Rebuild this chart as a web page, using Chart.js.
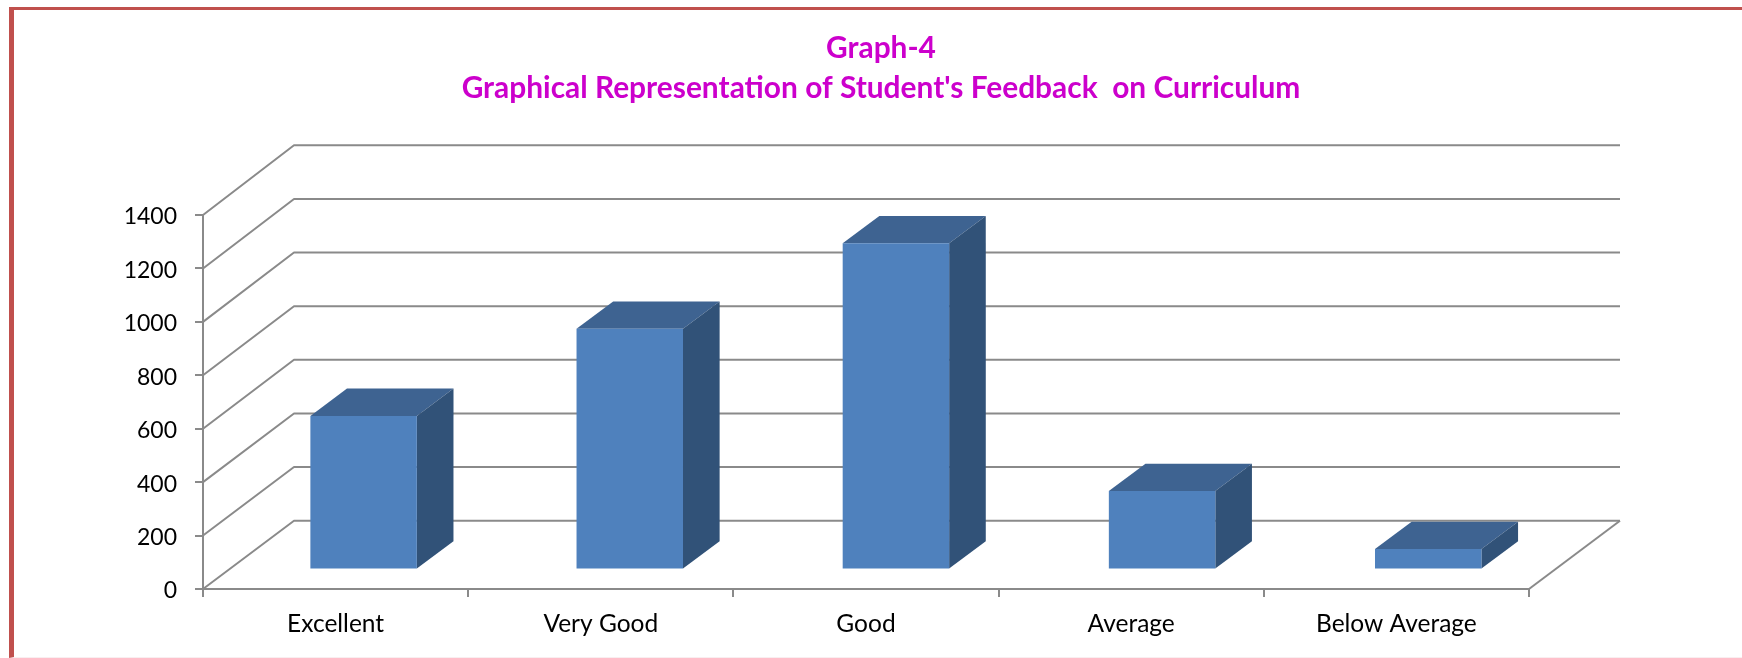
<!DOCTYPE html>
<html>
<head>
<meta charset="utf-8">
<title>Graph-4</title>
<script src="https://cdn.jsdelivr.net/npm/chart.js@4"></script>
<style>
    html, body { margin: 0; padding: 0; background: #fff; }
    .frame {
        position: absolute; left: 9px; top: 7px; right: 0; bottom: 0;
        border-top: 3px solid #c0504d; border-left: 5px solid #c0504d;
        border-bottom: 1px solid #f9eef0;
    }
    canvas { position: absolute; left: 0; top: 0; }
</style>
</head>
<body>
<div class="frame"></div>
<canvas id="myChart" width="1742" height="658"></canvas>
<script>
const titleLines = ['Graph-4', "Graphical Representation of Student's Feedback  on Curriculum"];
const categories = ['Excellent', 'Very Good', 'Good', 'Average', 'Below Average'];
const feedback = [575, 901, 1221, 294, 77];
const yMax = 1400;
const yStep = 200;

// depth of the box (back wall) and of each bar, in pixels
// the back wall is a little taller than the front plane, like in the original perspective
const wallDepth = { x: 91, yBottom: 68.3, yTop: 69.7 };
const barDepth = { x: 36.5, y: 27.3 };
const barShift = { x: 26.8, y: 19.5 };
const barSpread = 1.0036;
const lineColor = '#8a8a8a';

const fake3d = {
    id: 'fake3d',
    beforeDatasetsDraw(chart) {
        const { ctx, chartArea, scales } = chart;
        const rise = value => wallDepth.yBottom + (wallDepth.yTop - wallDepth.yBottom) * value / yMax;
        ctx.save();
        ctx.strokeStyle = lineColor;
        ctx.lineWidth = 2;
        ctx.lineJoin = 'round';

        // side wall, back wall
        scales.y.ticks.forEach(t => {
            const py = scales.y.getPixelForValue(t.value);
            ctx.beginPath();
            ctx.moveTo(chartArea.left, py);
            ctx.lineTo(chartArea.left + wallDepth.x, py - rise(t.value));
            ctx.lineTo(chartArea.right + wallDepth.x, py - rise(t.value));
            ctx.stroke();
        });
        // right edge of the floor
        ctx.beginPath();
        ctx.moveTo(chartArea.right, chartArea.bottom);
        ctx.lineTo(chartArea.right + wallDepth.x, chartArea.bottom - rise(0));
        ctx.stroke();
        ctx.restore();

        // bars stand a bit behind the front plane, the library draws the front face
        ctx.save();
        ctx.translate(barShift.x, -barShift.y);
        ctx.scale(barSpread, 1);
        chart.getDatasetMeta(0).data.forEach(bar => {
            const left = bar.x - bar.width / 2;
            const right = bar.x + bar.width / 2;

            ctx.fillStyle = '#3e6391';
            ctx.beginPath();
            ctx.moveTo(left, bar.y);
            ctx.lineTo(left + barDepth.x, bar.y - barDepth.y);
            ctx.lineTo(right + barDepth.x, bar.y - barDepth.y);
            ctx.lineTo(right, bar.y);
            ctx.closePath();
            ctx.fill();

            ctx.fillStyle = '#315278';
            ctx.beginPath();
            ctx.moveTo(right, bar.y);
            ctx.lineTo(right + barDepth.x, bar.y - barDepth.y);
            ctx.lineTo(right + barDepth.x, bar.base - barDepth.y);
            ctx.lineTo(right, bar.base);
            ctx.closePath();
            ctx.fill();
        });
    },
    afterDatasetsDraw(chart) {
        chart.ctx.restore();
    },
};

new Chart(document.getElementById('myChart'), {
    type: 'bar',
    data: {
        labels: categories,
        datasets: [{
            data: feedback,
            backgroundColor: '#4f81bd',
            borderWidth: 0,
            barPercentage: 0.4,
            categoryPercentage: 1,
            clip: false,
        }],
    },
    options: {
        responsive: false,
        animation: false,
        layout: { padding: { left: 20, right: 0, top: 0, bottom: 0 } },
        plugins: {
            legend: { display: false },
            tooltip: { enabled: false },
            title: {
                display: true,
                text: titleLines,
                color: '#cc00cc',
                font: { family: 'Lato', size: 29.9, weight: 'bold', lineHeight: 40 / 29.9 },
                padding: { top: 28, bottom: 107 },
            },
        },
        scales: {
            x: {
                afterFit: s => { s.height = 69; },
                grid: { drawOnChartArea: false, color: lineColor, lineWidth: 2, tickLength: 8 },
                border: { color: lineColor, width: 2 },
                ticks: { color: '#000', font: { family: 'Lato', size: 24.5 }, padding: 12, maxRotation: 0 },
            },
            y: {
                min: 0,
                max: yMax,
                afterFit: s => { s.width = 183; },
                grid: { drawOnChartArea: false, color: lineColor, lineWidth: 2, tickLength: 8 },
                border: { color: lineColor, width: 2 },
                ticks: {
                    stepSize: yStep,
                    color: '#000',
                    font: { family: 'Lato', size: 23 },
                    padding: 18,
                    labelOffset: 2,
                    callback: value => String(value),
                },
            },
            // empty axis, only keeps the room on the right for the depth of the box
            yRight: {
                position: 'right',
                grid: { display: false },
                border: { display: false },
                ticks: { display: false },
                afterFit: s => { s.width = 213; },
            },
        },
    },
    plugins: [fake3d],
});
</script>
</body>
</html>
